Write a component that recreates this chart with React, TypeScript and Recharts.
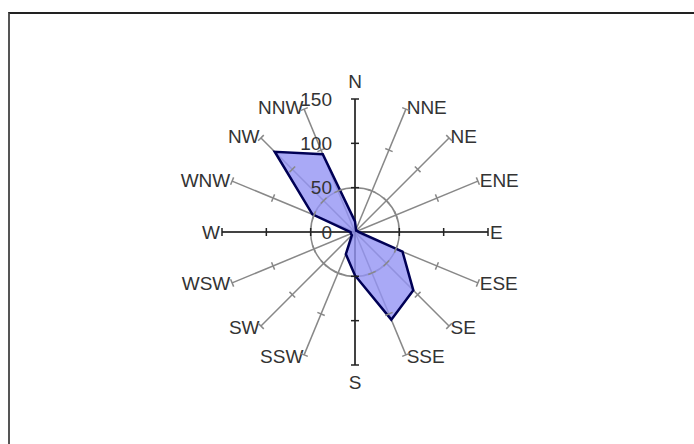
import { PolarAngleAxis, PolarGrid, PolarRadiusAxis, Radar, RadarChart } from 'recharts'

const directions = ['N', 'NNE', 'NE', 'ENE', 'E', 'ESE', 'SE', 'SSE', 'S', 'SSW', 'SW', 'WSW', 'W', 'WNW', 'NW', 'NNW']
const frequencies = [12, 3, 2, 3, 4, 58, 93, 107, 49, 27, 5, 5, 5, 52, 128, 95]
const radiusTicks = [0, 50, 100, 150]

const data = directions.map((dir, i) => ({ dir, value: frequencies[i] }))

const W = 684
const H = 430
const CX = 345
const CY = 218
const R = 133
const FONT = '"Liberation Sans", Arial, sans-serif'
const DARK = '#222'
const GREY = '#888'

const axisAngle = (i: number) => 90 - (i * 360) / directions.length
const cardinalAngles = [90, 0, -90, -180]

// radius axis tick: label on the N spoke, plus a small cross tick on every spoke at that radius
const RadiusTick = (props: any) => {
  const { x, y, payload } = props
  const r = Math.hypot(x - CX, y - CY)
  return (
    <g>
      {payload.value !== 0 &&
        directions.map((d, i) => {
          const a = (axisAngle(i) * Math.PI) / 180
          const tx = CX + r * Math.cos(a)
          const ty = CY - r * Math.sin(a)
          const px = Math.sin(a) * 4
          const py = Math.cos(a) * 4
          return (
            <line
              key={d}
              x1={tx - px}
              y1={ty - py}
              x2={tx + px}
              y2={ty + py}
              stroke={i % 4 === 0 ? DARK : GREY}
              strokeWidth={1.5}
            />
          )
        })}
      <text x={x - 23} y={y} textAnchor="end" dominantBaseline="central" fontFamily={FONT} fontSize={19} fill="#333">
        {payload.value}
      </text>
    </g>
  )
}

const DirLabel = (props: any) => {
  const { x, y, payload, textAnchor } = props
  let dy = 0
  if (textAnchor === 'middle') dy = y < CY ? -16 : 15
  return (
    <text x={x} y={y + dy} textAnchor={textAnchor} dominantBaseline="central" fontFamily={FONT} fontSize={19} fill="#333">
      {payload.value}
    </text>
  )
}

export default function App() {
  return (
    <div
      style={{
        position: 'absolute',
        left: 8,
        top: 12,
        width: 686,
        height: 432,
        boxSizing: 'border-box',
        borderTop: '2px solid #222',
        borderLeft: '2px solid #555',
        background: '#fff',
      }}
    >
      <RadarChart width={W} height={H} data={data} cx={CX} cy={CY} outerRadius={R} margin={{ top: 0, right: 0, bottom: 0, left: 0 }}>
        <PolarGrid gridType="circle" polarRadius={[(R * 50) / 150]} stroke={GREY} strokeWidth={1.5} />
        <PolarGrid gridType="circle" polarRadius={[]} polarAngles={cardinalAngles} stroke={DARK} strokeWidth={1.5} />
        <PolarAngleAxis dataKey="dir" tickLine={false} axisLine={false} tickSize={2} tick={DirLabel} />
        <Radar
          dataKey="value"
          stroke="#000055"
          strokeWidth={2.5}
          fill="#9494f4"
          fillOpacity={0.8}
          dot={false}
          isAnimationActive={false}
        />
        <PolarRadiusAxis
          angle={90}
          type="number"
          domain={[0, 150]}
          ticks={radiusTicks}
          tickCount={4}
          axisLine={false}
          tick={RadiusTick}
        />
      </RadarChart>
    </div>
  )
}
